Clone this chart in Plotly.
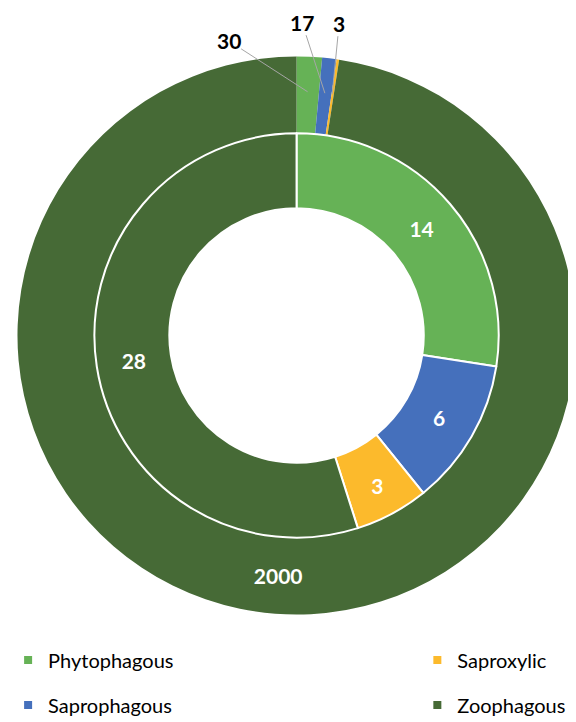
import numpy as np
import plotly.graph_objects as go

categories = ["Phytophagous", "Saprophagous", "Saproxylic", "Zoophagous"]
outer_values = [30, 17, 3, 2000]
inner_values = [14, 6, 3, 28]
colors = ["#66b256", "#4570bc", "#fcba2c", "#466a36"]
legend_order = ["Phytophagous", "Saproxylic", "Saprophagous", "Zoophagous"]

W, H = 576, 722
PAGE = 8                       # default body margin of the html page
cx, cy = 292.5 - PAGE, 335.5 - PAGE   # ring centre in figure px (from top)
R_out, R_mid, R_hole = 283, 205, 129

def dom(r):
    return dict(x=[(cx - r) / W, (cx + r) / W],
                y=[(H - cy - r) / H, (H - cy + r) / H])

fig = go.Figure()

outer_tt = ["" for _ in outer_values[:-1]] + ["%{value}"]
fig.add_trace(go.Pie(
    labels=categories, values=outer_values, sort=False, direction="clockwise",
    rotation=0, hole=R_mid / R_out, domain=dom(R_out),
    marker=dict(colors=colors, line=dict(color="white", width=0)),
    texttemplate=outer_tt, textposition="inside", insidetextorientation="horizontal",
    textfont=dict(family="Lato", size=21, color="white", weight="bold"),
    showlegend=False, hoverinfo="label+value",
))
fig.add_trace(go.Pie(
    labels=categories, values=inner_values, sort=False, direction="clockwise",
    rotation=0, hole=R_hole / R_mid, domain=dom(R_mid),
    marker=dict(colors=colors, line=dict(color="white", width=2)),
    texttemplate="%{value}", textposition="inside", insidetextorientation="horizontal",
    textfont=dict(family="Lato", size=21, color="white", weight="bold"),
    showlegend=False, hoverinfo="label+value",
))

# outside labels for the thin outer slices, leader lines point at slice middles
total = sum(outer_values)
cum = np.cumsum([0] + outer_values)
offsets = [(-79, -51), (-23, -71), (7, -71)]
for i in range(3):
    mid = (cum[i] + cum[i + 1]) / 2 / total * 2 * np.pi
    r = 244
    px = cx + r * np.sin(mid)
    py = cy - r * np.cos(mid)
    fig.add_annotation(
        x=px / W, y=1 - py / H, xref="paper", yref="paper",
        text=str(outer_values[i]), showarrow=True, arrowhead=0, arrowwidth=1,
        arrowcolor="#a6a6a6", ax=offsets[i][0], ay=offsets[i][1],
        font=dict(family="Lato", size=21, color="black", weight="bold"),
        borderpad=0,
    )

# legend (four single-entry legends laid out as a 2x2 grid)
leg_pos = {
    "Phytophagous": (-8 / W, 1 - 652 / H),
    "Saproxylic": (407 / W, 1 - 652 / H),
    "Saprophagous": (-8 / W, 1 - 697 / H),
    "Zoophagous": (407 / W, 1 - 697 / H),
}
layout_legends = {}
for k, name in enumerate(legend_order):
    lid = "legend" if k == 0 else f"legend{k + 1}"
    col = colors[categories.index(name)]
    fig.add_trace(go.Scatter(
        x=[None], y=[None], mode="markers", name=name, legend=lid,
        marker=dict(symbol="square", size=8, color=col), showlegend=True,
    ))
    lx, ly = leg_pos[name]
    layout_legends[lid] = dict(
        x=lx, y=ly, xanchor="left", yanchor="middle", bgcolor="rgba(0,0,0,0)",
        font=dict(family="Lato", size=20, color="black"),
    )

fig.update_layout(
    width=W, height=H, margin=dict(l=0, r=0, t=0, b=0),
    paper_bgcolor="white", plot_bgcolor="white",
    xaxis=dict(visible=False), yaxis=dict(visible=False),
    **layout_legends,
)
fig.write_html("out.html")
